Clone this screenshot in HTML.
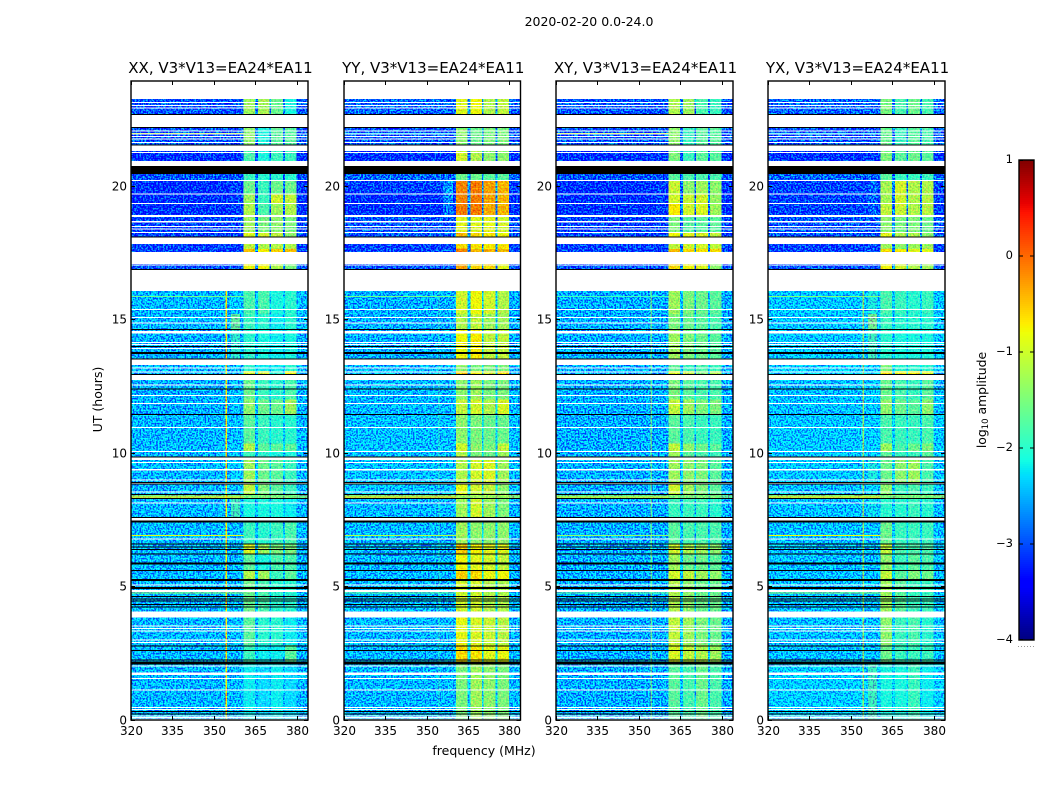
<!DOCTYPE html>
<html lang="en">
<head>
<meta charset="utf-8">
<title>2020-02-20 0.0-24.0</title>
<style>
html,body{margin:0;padding:0;background:#fff;width:1050px;height:800px;overflow:hidden}
svg{display:block}
text{font-family:"DejaVu Sans","Liberation Sans",sans-serif;fill:#000}
</style>
</head>
<body>
<svg id="fig" xmlns="http://www.w3.org/2000/svg" width="1050" height="800" viewBox="0 0 1050 800">
<defs>
<filter id="speckle0" x="0" y="0" width="1" height="1" color-interpolation-filters="sRGB">
<feTurbulence type="fractalNoise" baseFrequency="0.6" numOctaves="1" seed="3" result="n"/>
<feColorMatrix in="n" type="matrix" values="0 0 0 0 .5  3.4 0 0 0 -1.2  0 0 0 0 .5  0 0 0 0 1" result="g"/>
<feComposite in="SourceGraphic" in2="g" operator="arithmetic" k1="0" k2="1" k3="1" k4="-.5" result="c"/>
<feComposite in="c" in2="SourceAlpha" operator="in"/>
</filter>
<filter id="speckle1" x="0" y="0" width="1" height="1" color-interpolation-filters="sRGB">
<feTurbulence type="fractalNoise" baseFrequency="0.6" numOctaves="1" seed="11" result="n"/>
<feColorMatrix in="n" type="matrix" values="0 0 0 0 .5  3.4 0 0 0 -1.2  0 0 0 0 .5  0 0 0 0 1" result="g"/>
<feComposite in="SourceGraphic" in2="g" operator="arithmetic" k1="0" k2="1" k3="1" k4="-.5" result="c"/>
<feComposite in="c" in2="SourceAlpha" operator="in"/>
</filter>
<filter id="speckle2" x="0" y="0" width="1" height="1" color-interpolation-filters="sRGB">
<feTurbulence type="fractalNoise" baseFrequency="0.6" numOctaves="1" seed="23" result="n"/>
<feColorMatrix in="n" type="matrix" values="0 0 0 0 .5  3.4 0 0 0 -1.2  0 0 0 0 .5  0 0 0 0 1" result="g"/>
<feComposite in="SourceGraphic" in2="g" operator="arithmetic" k1="0" k2="1" k3="1" k4="-.5" result="c"/>
<feComposite in="c" in2="SourceAlpha" operator="in"/>
</filter>
<filter id="speckle3" x="0" y="0" width="1" height="1" color-interpolation-filters="sRGB">
<feTurbulence type="fractalNoise" baseFrequency="0.6" numOctaves="1" seed="37" result="n"/>
<feColorMatrix in="n" type="matrix" values="0 0 0 0 .5  3.4 0 0 0 -1.2  0 0 0 0 .5  0 0 0 0 1" result="g"/>
<feComposite in="SourceGraphic" in2="g" operator="arithmetic" k1="0" k2="1" k3="1" k4="-.5" result="c"/>
<feComposite in="c" in2="SourceAlpha" operator="in"/>
</filter>
<filter id="speckleSoft" x="0" y="0" width="1" height="1" color-interpolation-filters="sRGB">
<feTurbulence type="fractalNoise" baseFrequency="0.6" numOctaves="1" seed="51" result="n"/>
<feColorMatrix in="n" type="matrix" values="1 0 0 0 0  0 1 0 0 0  0 0 0 0 .5  0 0 0 0 1" result="g"/>
<feComposite in="SourceGraphic" in2="g" operator="arithmetic" k1="0" k2="1" k3="1" k4="-.5" result="c"/>
<feComposite in="c" in2="SourceAlpha" operator="in"/>
</filter>
</defs>
<text x="589" y="26" font-size="12.5" text-anchor="middle">2020-02-20 0.0-24.0</text>
<text x="484" y="755" font-size="12.5" text-anchor="middle">frequency (MHz)</text>
<text transform="translate(102,399.5) rotate(-90)" font-size="12.5" text-anchor="middle">UT (hours)</text>
<text transform="translate(986,400) rotate(-90)" font-size="12.4" text-anchor="middle">log<tspan font-size="8.5" dy="2">10</tspan><tspan dy="-2"> amplitude</tspan></text>
</svg>
<script>
// Panels
const panelTitles = ["XX, V3*V13=EA24*EA11", "YY, V3*V13=EA24*EA11", "XY, V3*V13=EA24*EA11", "YX, V3*V13=EA24*EA11"];
const xTicks = [320, 335, 350, 365, 380];
const yTicks = [0, 5, 10, 15, 20];
const cbarTicks = [1, 0, -1, -2, -3, -4];

// Frequency column edges (MHz)
const freqEdges = [320, 354.2, 354.7, 356.1, 359.5, 360.6, 364.8, 365.9, 370, 370.6, 375, 375.7, 379.8, 384];
// Which level each column reads: 0 bg, 1 off-band patch, 2-5 sub-bands, -1 gap between bands, -2 vertical RFI line
const freqColumn = [0, -2, 0, 1, 0, 2, -1, 3, -1, 4, -1, 5, 0];

// Time bands (UT hours)
const bandStart = [22.66,21.54,20.94,20.21,19.69,19.35,18.91,18.25,18.09,17.64,17.53,16.87,15.20,14.62,13.52,13.07,12.94,12.0,11.45,10.35,10.05,9.85,8.89,8.44,8.30,7.59,6.59,6.22,5.60,5.24,4.06,2.8,2.1,0];
const bandEnd   = [23.26,22.18,21.31,20.45,20.21,19.69,19.35,18.84,18.25,17.83,17.64,17.08,16.07,15.20,14.62,13.30,13.07,12.73,12.0,11.45,10.35,10.05,9.74,8.84,8.44,8.30,7.43,6.59,6.22,5.60,5.24,3.83,2.8,2.1];

// log10 amplitude per band: [bg, off-band, sub1, sub2, sub3, sub4]
const levelsXX = [
[-3.0,-3.0,-1.3,-1.25,-1.6,-2.1],[-3.0,-3.0,-1.4,-2.1,-1.7,-1.7],[-3.2,-3.2,-1.8,-2.1,-1.9,-1.9],[-3.0,-3.0,-1.9,-2.0,-2.0,-2.0],
[-3.2,-3.1,-1.6,-1.9,-1.6,-1.6],[-3.2,-3.1,-1.3,-1.9,-1.0,-1.1],[-3.2,-3.1,-1.2,-1.8,-1.3,-1.2],[-3.1,-3.1,-1.3,-1.5,-1.4,-1.5],
[-3.1,-3.1,-0.9,-1.0,-1.1,-1.4],[-3.1,-3.1,-1.1,-1.2,-1.2,-1.2],[-3.1,-3.1,-0.45,-0.75,-0.55,-0.45],[-3.0,-3.0,-0.8,-0.8,-1.2,-1.5],
[-2.45,-2.35,-1.8,-1.8,-2.1,-2.0],[-2.45,-1.7,-1.9,-2.0,-2.2,-2.0],[-2.5,-2.0,-2.0,-2.1,-2.2,-2.1],[-2.45,-2.4,-2.0,-2.2,-2.2,-2.0],
[-2.45,-2.4,-0.9,-1.0,-2.0,-0.8],[-2.5,-2.4,-1.6,-1.9,-2.0,-1.8],[-2.5,-2.4,-1.4,-1.6,-1.6,-1.3],[-2.45,-2.4,-1.7,-1.9,-2.0,-2.0],
[-2.45,-2.4,-1.2,-1.7,-1.7,-1.7],[-2.45,-2.4,-1.9,-2.0,-2.1,-2.1],[-2.45,-2.3,-1.3,-1.6,-1.7,-1.9],[-2.45,-2.4,-1.1,-1.5,-1.7,-1.9],
[-1.6,-1.6,-1.5,-1.5,-1.5,-1.5],[-2.45,-1.9,-2.1,-2.1,-2.1,-2.2],[-2.45,-2.45,-1.9,-2.0,-1.9,-1.8],[-2.45,-2.45,-0.95,-1.3,-1.5,-1.5],
[-2.45,-2.45,-1.7,-2.1,-1.8,-1.8],[-2.45,-2.45,-1.2,-1.3,-1.9,-1.7],[-2.45,-2.4,-1.6,-1.8,-2.0,-2.0],[-2.45,-2.4,-1.7,-2.0,-2.0,-2.2],
[-2.45,-2.45,-1.9,-2.2,-2.2,-1.7],[-2.45,-2.4,-2.2,-2.3,-2.2,-2.3]];
const levelsYY = [
[-2.9,-2.9,-0.9,-0.8,-1.2,-1.1],[-3.0,-3.0,-1.4,-1.6,-1.5,-1.5],[-3.2,-3.2,-1.0,-1.2,-1.4,-1.4],[-2.9,-2.8,-1.6,-1.6,-1.7,-1.7],
[-3.1,-2.6,-0.15,-0.1,-0.3,-0.4],[-3.2,-2.7,-0.15,-0.1,-0.3,-0.4],[-3.2,-2.8,-0.1,-0.1,-0.35,-0.4],[-3.0,-3.0,-0.9,-0.9,-0.9,-1.0],
[-3.0,-3.0,-0.4,-0.6,-0.7,-0.8],[-3.1,-3.0,-0.6,-0.65,-0.7,-0.7],[-3.1,-3.0,-0.1,-0.4,-0.4,-0.4],[-3.0,-3.0,-0.3,-0.6,-0.6,-0.9],
[-2.5,-2.5,-1.0,-0.8,-1.0,-1.2],[-2.5,-2.5,-1.2,-1.1,-1.3,-1.3],[-2.5,-2.5,-0.8,-0.7,-1.1,-1.1],[-2.45,-2.4,-1.4,-1.5,-1.5,-1.5],
[-2.45,-2.4,-0.6,-0.8,-1.0,-0.6],[-2.45,-2.45,-1.4,-1.3,-1.5,-1.5],[-2.45,-2.45,-1.1,-1.0,-1.2,-0.95],[-2.4,-2.4,-1.4,-1.5,-1.6,-1.6],
[-2.4,-2.4,-1.0,-1.4,-1.5,-1.1],[-2.4,-2.4,-1.2,-1.5,-1.6,-1.3],[-2.4,-2.4,-1.2,-1.0,-0.95,-1.3],[-2.4,-2.4,-0.85,-1.0,-1.1,-1.4],
[-1.5,-1.5,-1.3,-1.3,-1.3,-1.3],[-2.45,-2.45,-1.3,-1.0,-1.3,-1.5],[-2.45,-2.45,-1.3,-1.4,-1.4,-1.4],[-2.45,-2.45,-0.5,-0.75,-0.9,-0.9],
[-2.45,-2.45,-0.8,-0.9,-1.0,-1.1],[-2.45,-2.45,-0.55,-0.6,-0.85,-0.8],[-2.45,-2.45,-1.0,-1.0,-1.2,-1.2],[-2.45,-2.45,-0.85,-0.95,-1.05,-1.15],
[-2.45,-2.45,-0.6,-0.65,-0.9,-0.85],[-2.45,-2.45,-1.5,-1.3,-1.4,-1.5]];
const levelsXY = [
[-3.0,-3.0,-1.2,-1.3,-1.8,-1.9],[-3.0,-3.0,-1.4,-1.9,-1.7,-1.7],[-3.2,-3.2,-1.5,-1.9,-1.7,-1.7],[-3.0,-3.0,-1.7,-1.8,-1.8,-1.8],
[-3.2,-3.1,-1.05,-1.4,-1.3,-1.4],[-3.2,-3.1,-1.0,-1.05,-1.0,-1.35],[-3.2,-3.1,-0.7,-1.0,-0.95,-1.3],[-3.1,-3.1,-1.5,-1.7,-1.7,-1.7],
[-3.1,-3.1,-0.8,-0.9,-0.95,-1.1],[-3.1,-3.1,-1.1,-1.0,-1.0,-1.1],[-3.1,-3.1,-0.4,-0.6,-0.65,-0.6],[-3.0,-3.0,-0.6,-0.8,-0.9,-1.4],
[-2.5,-2.5,-1.3,-1.5,-1.6,-1.7],[-2.5,-2.5,-1.5,-1.6,-1.7,-1.8],[-2.5,-2.5,-1.3,-1.5,-1.6,-1.7],[-2.5,-2.5,-1.7,-1.9,-1.8,-1.9],
[-2.5,-2.5,-0.9,-1.1,-1.5,-1.2],[-2.5,-2.5,-1.5,-1.7,-1.8,-1.8],[-2.5,-2.5,-1.1,-1.3,-1.5,-1.5],[-2.5,-2.5,-1.7,-1.8,-1.9,-1.9],
[-2.5,-2.5,-1.1,-1.4,-1.6,-1.7],[-2.5,-2.5,-1.3,-1.7,-1.8,-1.9],[-2.5,-2.5,-1.3,-1.4,-1.5,-1.7],[-2.5,-2.5,-1.0,-1.3,-1.5,-1.7],
[-1.7,-1.7,-1.5,-1.5,-1.5,-1.5],[-2.5,-2.5,-1.9,-1.9,-1.9,-2.0],[-2.5,-2.5,-1.7,-1.8,-1.8,-1.8],[-2.5,-2.5,-1.0,-1.2,-1.3,-1.4],
[-2.5,-2.5,-1.3,-1.6,-1.6,-1.7],[-2.5,-2.5,-1.0,-1.1,-1.3,-1.4],[-2.5,-2.5,-1.2,-1.4,-1.6,-1.6],[-2.5,-2.5,-1.1,-1.3,-1.5,-1.6],
[-2.5,-2.5,-0.95,-1.1,-1.2,-1.3],[-2.5,-2.5,-1.7,-1.8,-1.6,-1.8]];
const levelsYX = [
[-2.9,-2.9,-1.5,-1.8,-1.6,-1.8],[-3.0,-3.0,-1.6,-1.9,-1.7,-1.8],[-3.2,-3.2,-1.5,-1.7,-1.6,-1.7],[-2.9,-2.9,-1.7,-1.9,-1.9,-1.9],
[-3.1,-2.9,-1.25,-1.0,-1.2,-1.2],[-3.1,-2.9,-1.25,-1.0,-1.2,-1.15],[-3.1,-2.9,-1.1,-1.05,-1.2,-1.15],[-3.0,-3.0,-1.4,-1.5,-1.5,-1.6],
[-3.0,-3.0,-0.9,-1.2,-1.2,-1.4],[-3.1,-3.0,-1.3,-1.4,-1.3,-1.3],[-3.1,-3.0,-0.6,-0.7,-0.9,-0.9],[-3.0,-3.0,-0.8,-1.0,-1.2,-1.3],
[-2.35,-2.1,-1.8,-1.9,-2.0,-1.9],[-2.35,-1.6,-1.9,-2.0,-2.0,-2.0],[-2.35,-1.9,-2.0,-2.1,-2.1,-2.1],[-2.3,-2.3,-1.5,-2.0,-2.0,-2.0],
[-2.3,-2.3,-0.7,-0.8,-0.8,-0.9],[-2.4,-2.3,-1.6,-1.8,-1.9,-1.7],[-2.4,-2.3,-1.4,-1.6,-1.7,-1.4],[-2.35,-2.3,-1.8,-1.9,-1.9,-1.8],
[-2.35,-2.3,-1.3,-1.8,-1.6,-1.5],[-2.35,-2.3,-1.7,-1.9,-1.9,-1.7],[-2.35,-2.1,-1.6,-1.4,-1.3,-1.8],[-2.4,-2.3,-1.4,-1.9,-1.8,-1.9],
[-1.5,-1.5,-1.5,-1.5,-1.5,-1.5],[-2.4,-2.2,-2.0,-2.0,-1.9,-2.0],[-2.4,-2.4,-1.6,-1.9,-1.9,-1.9],[-2.4,-2.4,-1.1,-1.8,-1.8,-1.8],
[-2.4,-2.4,-1.4,-1.9,-1.7,-1.8],[-2.4,-2.4,-1.1,-1.7,-1.5,-1.6],[-2.4,-2.4,-1.3,-1.7,-1.9,-1.9],[-2.4,-2.4,-1.4,-1.9,-1.8,-2.0],
[-2.4,-2.4,-1.6,-1.9,-1.9,-1.9],[-2.3,-1.9,-2.1,-2.1,-1.9,-2.2]];

// Vertical RFI line level per panel (only below this UT)
const rfiLineLevels = [-0.75, -2.0, -1.7, -1.4];
const rfiLineMaxUT = 16.07;

// Horizontal RFI streaks: UT hour and level per panel
const streakHours = [15.88, 8.37, 6.93, 4.78, 1.72, 21.98];
const streakXX = [-1.6, -0.7, -0.9, -1.3, -2.0, -1.0];
const streakYY = [-1.6, -0.6, -1.2, -1.6, -1.2, -2.2];
const streakXY = [-1.9, -0.8, -1.4, -1.6, -2.0, -0.9];
const streakYX = [-1.5, -0.7, -0.8, -1.3, -1.1, -2.2];

// Missing data (white): UT ranges and single-integration rows
const missingStart = [23.26,22.20,21.31,20.75,18.84,18.63,17.83,17.08,16.07,14.48,13.30,12.73,9.74,9.34,4.79,3.83,1.69];
const missingEnd   = [23.95,22.66,21.51,20.94,18.91,18.69,18.06,17.53,16.87,14.57,13.49,12.92,9.82,9.40,4.87,4.06,1.78];
const missingRows  = [23.13,23.01,22.91,22.06,21.94,21.85,21.75,21.62,21.26,20.21,19.69,19.35,18.48,18.38,18.25,17.04,15.38,15.08,14.86,14.13,14.07,13.92,13.19,13.04,12.55,12.15,11.86,10.96,10.05,9.65,8.99,8.53,8.12,6.77,5.06,3.52,3.43,3.34,3.00,2.90,2.02,1.56,1.12,0.46,0.40,0.15,0.09,0.03];

// Flagged data (black): UT ranges and rows
const flaggedStart = [20.45];
const flaggedEnd   = [20.75];
const flaggedRows  = [22.67,22.18,21.54,18.09,16.87,14.62,13.98,13.77,13.72,13.52,12.94,12.40,11.45,9.85,8.89,8.84,8.44,8.30,7.59,6.59,6.48,6.39,6.22,5.59,4.62,4.53,4.45,4.33,4.24,2.78,2.60,2.25,2.18,0.31,0.22];
const flaggedThickRows = [7.43,5.87,5.24,4.94,2.12];

const SVGNS = "http://www.w3.org/2000/svg";
const fig = document.getElementById("fig");
const panelLeft = [131, 344, 556, 768];
const panelWidth = [177, 176.5, 177, 177];
const axisTop = 81, axisBottom = 720, utMax = 23.93, fMin = 320, fMax = 384;
const allLevels = [levelsXX, levelsYY, levelsXY, levelsYX];
const allStreaks = [streakXX, streakYY, streakXY, streakYX];

function yOf(t){ return axisBottom - t / utMax * (axisBottom - axisTop); }
function xOf(p, f){ return panelLeft[p] + (f - fMin) / (fMax - fMin) * panelWidth[p]; }

function lerp(stops, p){
  for (let i = 1; i < stops.length; i++) {
    if (p <= stops[i][0]) {
      const a = stops[i-1], b = stops[i];
      return a[1] + (b[1]-a[1]) * (p-a[0]) / (b[0]-a[0]);
    }
  }
  return stops[stops.length-1][1];
}
const jetR = [[0,0],[.35,0],[.66,1],[.89,1],[1,.5]];
const jetG = [[0,0],[.125,0],[.375,1],[.64,1],[.91,0],[1,0]];
const jetB = [[0,.5],[.11,1],[.34,1],[.65,0],[1,0]];
function jet(v){
  const p = Math.max(0, Math.min(1, (v + 4) / 5));
  return "rgb(" + Math.round(255*lerp(jetR,p)) + "," + Math.round(255*lerp(jetG,p)) + "," + Math.round(255*lerp(jetB,p)) + ")";
}
function mk(tag, parent, attrs){
  const el = document.createElementNS(SVGNS, tag);
  for (const k in attrs) el.setAttribute(k, attrs[k]);
  parent.appendChild(el);
  return el;
}

panelTitles.forEach(function(title, p){
  const L = panelLeft[p], W = panelWidth[p];
  const levels = allLevels[p];
  const panel = mk("g", fig, {});
  
  

  const cells = mk("g", panel, {filter: "url(#speckle" + p + ")", "shape-rendering": "crispEdges"});
  
  

  const signal = mk("g", panel, {filter: "url(#speckleSoft)", "shape-rendering": "crispEdges"});
  
  

  bandStart.forEach(function(t0, b){
    const t1 = bandEnd[b], row = levels[b];
    freqColumn.forEach(function(c, k){
      let v;
      if (c >= 0) v = row[c];
      else if (c === -1) v = row[0]*0.85 + (row[2]+row[3]+row[4]+row[5])/4*0.15;
      else v = (t1 <= rfiLineMaxUT && rfiLineLevels[p] > row[0]) ? rfiLineLevels[p] : row[0];
      const x0 = xOf(p, freqEdges[k]), x1 = xOf(p, freqEdges[k+1]);
      const cell = mk("rect", c >= 2 ? signal : cells, {x:x0, y:yOf(t1), width:x1-x0, height:yOf(t0)-yOf(t1), fill:jet(v)});
      
      
    });
  });

  const overlay = mk("g", panel, {"shape-rendering":"crispEdges"});
  
  

  streakHours.forEach(function(t, i){
    const x0 = xOf(p, fMin), x1 = xOf(p, 360.6);
    const s = mk("rect", overlay, {x:x0, y:yOf(t), width:x1-x0, height:1, fill:jet(allStreaks[p][i])});
    
    
  });
  missingStart.forEach(function(t0, i){
    const m = mk("rect", overlay, {x:L, y:yOf(missingEnd[i]), width:W, height:yOf(t0)-yOf(missingEnd[i]), fill:"#fff"});
    
    
  });
  missingRows.forEach(function(t){
    const m = mk("rect", overlay, {x:L, y:yOf(t)-0.5, width:W, height:1, fill:"#fff"});
    
    
  });
  flaggedStart.forEach(function(t0, i){
    const m = mk("rect", overlay, {x:L, y:yOf(flaggedEnd[i]), width:W, height:yOf(t0)-yOf(flaggedEnd[i]), fill:"#000"});
    
    
  });
  flaggedRows.forEach(function(t){
    const m = mk("rect", overlay, {x:L, y:yOf(t)-0.5, width:W, height:1, fill:"#000"});
    
    
  });
  flaggedThickRows.forEach(function(t){
    const m = mk("rect", overlay, {x:L, y:yOf(t)-1, width:W, height:2, fill:"#000"});
    
    
  });

  // frame
  const frame = mk("rect", panel, {x:L, y:axisTop, width:W, height:axisBottom-axisTop, fill:"none", stroke:"#000", "stroke-width":1.4});
  
  

  // x ticks
  xTicks.forEach(function(f){
    const x = Math.round(xOf(p, f)) + 0.5;
    const t1 = mk("line", panel, {x1:x, x2:x, y1:axisBottom, y2:axisBottom-4, stroke:"#000", "stroke-width":1});
    
    
    const t2 = mk("line", panel, {x1:x, x2:x, y1:axisTop, y2:axisTop+4, stroke:"#000", "stroke-width":1});
    
    
    const lab = mk("text", panel, {x:x, y:axisBottom+15, "font-size":12, "text-anchor":"middle"});
    lab.textContent = f;
    
    
  });
  // y ticks
  yTicks.forEach(function(t){
    const y = Math.round(yOf(t)) + 0.5;
    const t1 = mk("line", panel, {x1:L, x2:L+4, y1:y, y2:y, stroke:"#000", "stroke-width":1});
    
    
    const t2 = mk("line", panel, {x1:L+W, x2:L+W-4, y1:y, y2:y, stroke:"#000", "stroke-width":1});
    
    
    const lab = mk("text", panel, {x:L-4, y:y+4, "font-size":12, "text-anchor":"end"});
    lab.textContent = t;
    
    
  });
  const ttl = mk("text", panel, {x:L+W/2+1, y:73, "font-size":15, "text-anchor":"middle"});
  ttl.textContent = title;
  
  
});

// Colorbar
const cbL = 1019, cbW = 15, cbTop = 160, cbBottom = 640, cbMax = 1, cbMin = -4;
function cbY(v){ return cbTop + (cbMax - v) / (cbMax - cbMin) * (cbBottom - cbTop); }
const cbar = mk("g", fig, {});


const cbRamp = mk("g", cbar, {"shape-rendering":"crispEdges"});


for (let i = 0; i < 240; i++) {
  const v0 = cbMax - (cbMax-cbMin) * i / 240, v1 = cbMax - (cbMax-cbMin) * (i+1) / 240;
  const r = mk("rect", cbRamp, {x:cbL, y:cbY(v0), width:cbW, height:cbY(v1)-cbY(v0)+0.5, fill:jet((v0+v1)/2)});
  
  
}
const cbFrame = mk("rect", cbar, {x:cbL, y:cbTop, width:cbW, height:cbBottom-cbTop, fill:"none", stroke:"#000", "stroke-width":1.4});


cbarTicks.forEach(function(v){
  const y = Math.round(cbY(v)) + (v === cbMax ? 0.5 : (v === cbMin ? -0.5 : 0));
  const t1 = mk("line", cbar, {x1:cbL, x2:cbL+4, y1:y, y2:y, stroke:"#000", "stroke-width":1});
  
  
  const t2 = mk("line", cbar, {x1:cbL+cbW, x2:cbL+cbW-4, y1:y, y2:y, stroke:"#000", "stroke-width":1});
  
  
  const lab = mk("text", cbar, {x:cbL-6, y:cbY(v)+3, "font-size":11.5, "text-anchor":"end"});
  lab.textContent = v < 0 ? "\u2212" + Math.abs(v) : String(v);
  
  
});
const cbDots = mk("line", cbar, {x1:1018, x2:1034, y1:646.5, y2:646.5, stroke:"#999", "stroke-width":1, "stroke-dasharray":"1 2"});


</script>
</body>
</html>
